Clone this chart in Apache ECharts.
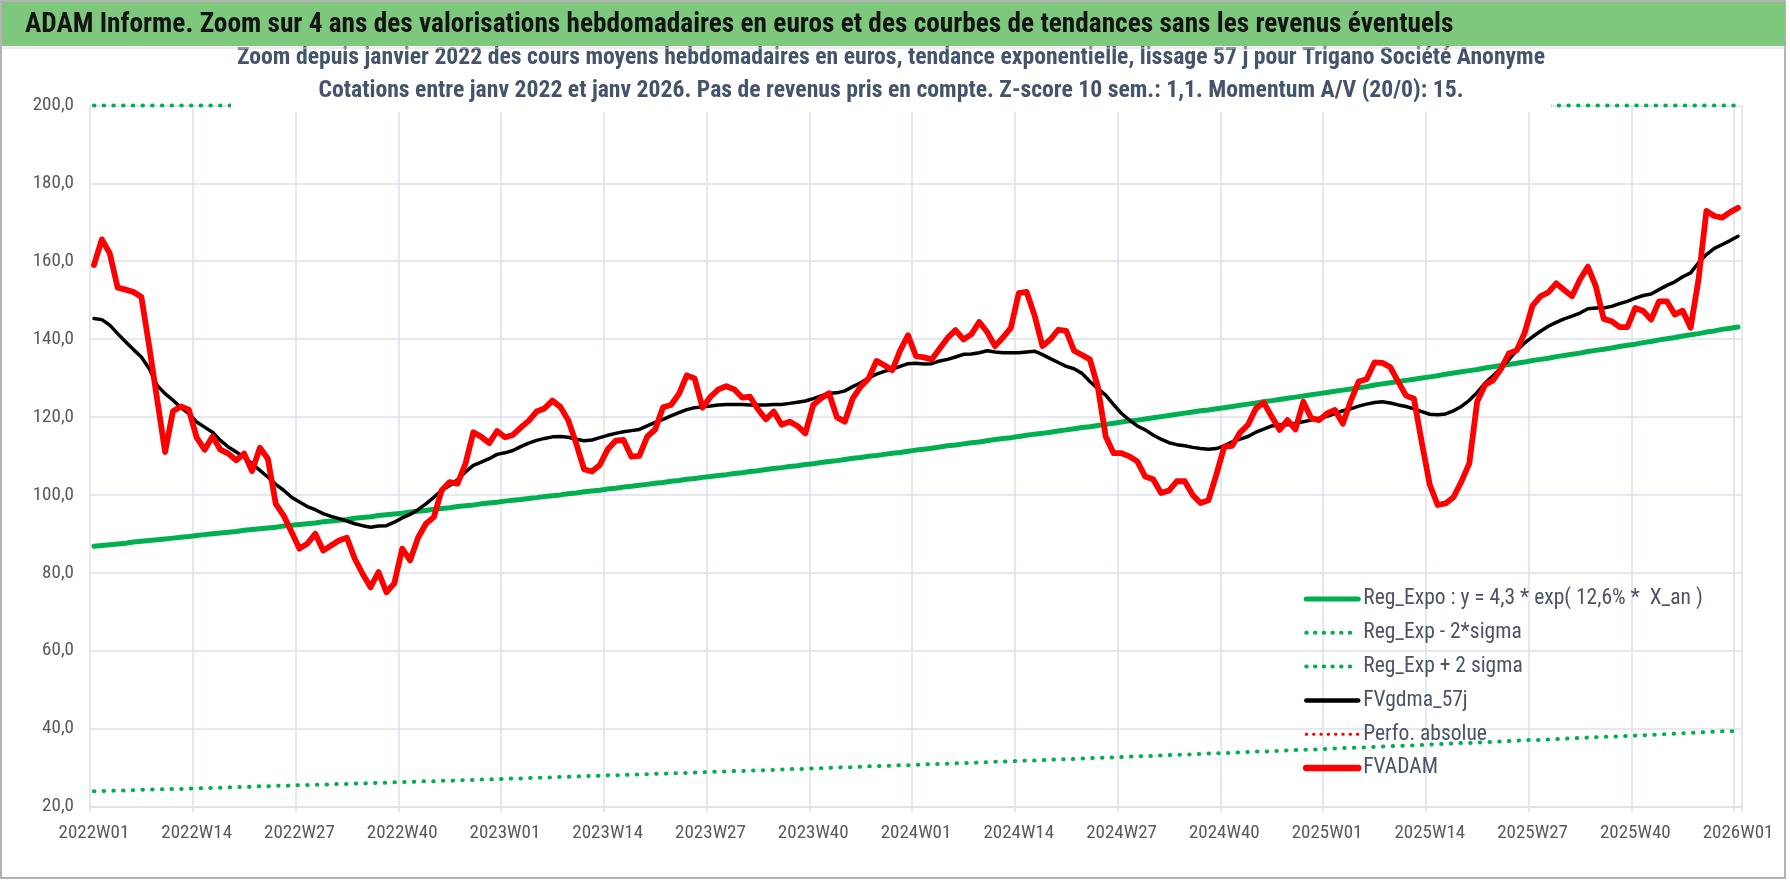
<!DOCTYPE html>
<html>
<head>
<meta charset="utf-8">
<script src="https://cdn.jsdelivr.net/npm/echarts@6/dist/echarts.min.js"></script>
<style>
html,body{margin:0;padding:0;background:#fff;}
#chart{width:1790px;height:887px;}
</style>
</head>
<body>
<div id="chart"></div>
<script>
// ---------- DATA ----------
const years = [2022, 2023, 2024, 2025];
const weeksPerYear = 52;
const lastWeek = '2026W01';

const yTicks = { min: 20, max: 200, step: 20 };

const mainTitle = 'ADAM Informe. Zoom sur 4 ans des valorisations hebdomadaires en euros et des courbes de tendances sans les revenus éventuels';
const subTitleLines = [
  'Zoom depuis janvier 2022 des cours moyens hebdomadaires en euros, tendance exponentielle, lissage 57 j pour Trigano Société Anonyme',
  'Cotations entre janv 2022 et janv 2026. Pas de revenus pris en compte. Z-score 10 sem.: 1,1. Momentum A/V (20/0): 15.'
];
const seriesNames = ['Reg_Expo : y = 4,3 * exp( 12,6% *  X_an )', 'Reg_Exp - 2*sigma', 'Reg_Exp + 2 sigma', 'FVgdma_57j', 'Perfo. absolue', 'FVADAM'];

const regExpo = [
86.8,87.0,87.2,87.4,87.6,87.9,88.1,88.3,88.5,88.7,
88.9,89.1,89.3,89.6,89.8,90.0,90.2,90.4,90.6,90.9,
91.1,91.3,91.5,91.7,92.0,92.2,92.4,92.6,92.8,93.1,
93.3,93.5,93.7,94.0,94.2,94.4,94.7,94.9,95.1,95.3,
95.6,95.8,96.0,96.3,96.5,96.7,97.0,97.2,97.4,97.7,
97.9,98.1,98.4,98.6,98.8,99.1,99.3,99.6,99.8,100.0,
100.3,100.5,100.8,101.0,101.2,101.5,101.7,102.0,102.2,102.5,
102.7,103.0,103.2,103.5,103.7,104.0,104.2,104.5,104.7,105.0,
105.2,105.5,105.7,106.0,106.2,106.5,106.8,107.0,107.3,107.5,
107.8,108.0,108.3,108.6,108.8,109.1,109.4,109.6,109.9,110.1,
110.4,110.7,110.9,111.2,111.5,111.7,112.0,112.3,112.6,112.8,
113.1,113.4,113.6,113.9,114.2,114.5,114.7,115.0,115.3,115.6,
115.8,116.1,116.4,116.7,117.0,117.3,117.5,117.8,118.1,118.4,
118.7,119.0,119.2,119.5,119.8,120.1,120.4,120.7,121.0,121.3,
121.6,121.8,122.1,122.4,122.7,123.0,123.3,123.6,123.9,124.2,
124.5,124.8,125.1,125.4,125.7,126.0,126.3,126.6,126.9,127.2,
127.5,127.8,128.2,128.5,128.8,129.1,129.4,129.7,130.0,130.3,
130.6,131.0,131.3,131.6,131.9,132.2,132.6,132.9,133.2,133.5,
133.8,134.1,134.5,134.8,135.1,135.5,135.8,136.1,136.4,136.8,
137.1,137.4,137.7,138.1,138.4,138.7,139.1,139.4,139.8,140.1,
140.4,140.8,141.1,141.4,141.8,142.1,142.5,142.8,143.1
];

const regMinus2Sigma = [
23.9,24.0,24.0,24.1,24.1,24.2,24.3,24.3,24.4,24.4,
24.5,24.5,24.6,24.7,24.7,24.8,24.8,24.9,25.0,25.0,
25.1,25.2,25.2,25.3,25.3,25.4,25.5,25.5,25.6,25.6,
25.7,25.8,25.8,25.9,25.9,26.0,26.1,26.1,26.2,26.3,
26.3,26.4,26.5,26.5,26.6,26.6,26.7,26.8,26.8,26.9,
27.0,27.0,27.1,27.2,27.2,27.3,27.4,27.4,27.5,27.6,
27.6,27.7,27.8,27.8,27.9,28.0,28.0,28.1,28.2,28.2,
28.3,28.4,28.4,28.5,28.6,28.6,28.7,28.8,28.9,28.9,
29.0,29.1,29.1,29.2,29.3,29.3,29.4,29.5,29.6,29.6,
29.7,29.8,29.8,29.9,30.0,30.1,30.1,30.2,30.3,30.4,
30.4,30.5,30.6,30.6,30.7,30.8,30.9,30.9,31.0,31.1,
31.2,31.2,31.3,31.4,31.5,31.5,31.6,31.7,31.8,31.8,
31.9,32.0,32.1,32.1,32.2,32.3,32.4,32.5,32.5,32.6,
32.7,32.8,32.9,32.9,33.0,33.1,33.2,33.3,33.3,33.4,
33.5,33.6,33.7,33.7,33.8,33.9,34.0,34.1,34.1,34.2,
34.3,34.4,34.5,34.6,34.6,34.7,34.8,34.9,35.0,35.1,
35.1,35.2,35.3,35.4,35.5,35.6,35.6,35.7,35.8,35.9,
36.0,36.1,36.2,36.3,36.3,36.4,36.5,36.6,36.7,36.8,
36.9,37.0,37.1,37.1,37.2,37.3,37.4,37.5,37.6,37.7,
37.8,37.9,37.9,38.0,38.1,38.2,38.3,38.4,38.5,38.6,
38.7,38.8,38.9,39.0,39.1,39.2,39.3,39.3,39.4
];

// the +2 sigma band sits above the axis maximum: it is visible only on the 200 top line
const regPlus2Sigma = [
200,200,200,200,200,200,200,200,200,200,
200,200,200,200,200,200,200,200,200,200,
200,200,200,200,200,200,200,200,200,200,
200,200,200,200,200,200,200,200,200,200,
200,200,200,200,200,200,200,200,200,200,
200,200,200,200,200,200,200,200,200,200,
200,200,200,200,200,200,200,200,200,200,
200,200,200,200,200,200,200,200,200,200,
200,200,200,200,200,200,200,200,200,200,
200,200,200,200,200,200,200,200,200,200,
200,200,200,200,200,200,200,200,200,200,
200,200,200,200,200,200,200,200,200,200,
200,200,200,200,200,200,200,200,200,200,
200,200,200,200,200,200,200,200,200,200,
200,200,200,200,200,200,200,200,200,200,
200,200,200,200,200,200,200,200,200,200,
200,200,200,200,200,200,200,200,200,200,
200,200,200,200,200,200,200,200,200,200,
200,200,200,200,200,200,200,200,200,200,
200,200,200,200,200,200,200,200,200,200,
200,200,200,200,200,200,200,200,200
];

const fvgdma57j = [
145.3,145.0,143.6,141.4,139.3,137.3,135.4,132.4,128.1,126.0,
124.3,122.4,120.9,118.7,117.4,116.1,114.0,112.3,111.0,109.7,
108.0,106.3,104.6,102.7,101.2,99.4,98.2,97.0,96.2,95.2,
94.5,93.9,93.3,92.6,92.1,91.7,92.0,92.1,93.0,94.1,
95.0,96.2,97.7,99.4,101.2,102.4,103.9,105.9,107.6,108.4,
109.3,110.4,110.8,111.4,112.4,113.3,114.0,114.5,114.9,115.0,
114.8,114.3,113.9,114.1,114.7,115.3,115.8,116.2,116.5,116.8,
117.7,118.6,119.4,120.3,121.1,121.9,122.4,122.6,122.8,123.1,
123.2,123.2,123.2,123.1,123.1,123.1,123.2,123.2,123.5,123.8,
124.1,124.7,125.4,126.1,126.2,126.7,127.8,128.8,130.0,131.0,
131.7,132.3,133.0,133.7,133.8,133.6,133.7,134.4,134.8,135.4,
136.1,136.2,136.5,137.0,136.7,136.5,136.5,136.5,136.7,136.9,
136.0,135.0,134.0,133.0,132.4,131.2,129.1,127.3,125.6,123.2,
120.9,119.2,117.7,116.7,115.4,114.3,113.4,112.9,112.6,112.2,
111.9,111.7,111.9,112.6,113.6,114.3,115.0,116.1,116.9,117.7,
118.0,118.0,118.4,118.8,119.2,119.7,120.2,120.9,121.6,122.1,
122.8,123.3,123.7,123.9,123.6,123.1,122.7,122.1,121.4,120.7,
120.6,120.8,121.6,122.7,124.3,126.3,128.7,130.6,132.6,134.7,
137.1,139.0,140.6,142.0,143.3,144.3,145.2,145.9,146.7,147.8,
148.0,148.0,148.4,149.1,149.7,150.5,151.2,151.6,152.7,153.8,
154.7,156.0,157.0,159.6,161.7,163.3,164.3,165.3,166.4
];

const perfoAbsolue = [];

const fvadam = [
159.0,165.6,162.0,153.2,152.7,152.1,150.8,138.0,124.5,111.0,
121.5,122.7,121.9,114.7,111.6,115.0,111.6,110.6,108.9,110.6,
106.1,112.1,109.3,97.7,94.7,90.5,86.2,87.5,90.0,85.7,
87.0,88.3,89.0,83.6,79.7,76.3,80.2,75.0,77.3,86.2,
83.2,89.0,92.6,94.3,101.2,103.3,102.9,108.0,116.1,114.9,
113.3,116.4,114.8,115.4,117.3,119.0,121.4,122.2,124.2,122.6,
119.2,113.3,106.6,106.0,107.7,111.7,113.9,114.1,109.8,110.0,
115.0,116.8,122.5,123.1,125.9,130.7,129.9,122.4,125.2,127.1,
127.9,127.1,125.0,125.2,122.0,119.4,121.4,118.0,118.8,117.7,
115.8,123.1,124.8,126.1,119.9,118.8,124.8,127.8,129.9,134.4,
133.3,132.0,137.1,141.0,135.6,135.3,134.8,137.6,140.3,142.3,
139.9,141.2,144.4,141.8,138.2,140.4,142.9,151.8,152.1,146.1,
138.2,139.9,142.4,142.1,137.0,135.9,134.8,127.8,115.0,110.7,
110.7,109.9,108.6,104.7,104.0,100.5,101.1,103.5,103.5,100.0,
97.9,98.6,105.2,112.4,112.6,116.0,118.0,122.2,123.7,120.1,
116.7,119.2,116.8,123.9,119.7,119.2,120.9,121.8,118.3,124.1,
129.1,129.7,134.0,133.9,132.8,129.1,125.5,124.7,113.3,102.6,
97.4,97.8,99.4,103.4,108.1,124.0,128.3,129.4,132.3,136.3,
137.1,141.6,148.6,151.0,152.0,154.3,152.6,151.0,155.3,158.6,
153.6,145.2,144.6,143.1,143.1,148.0,147.2,145.0,149.7,149.7,
146.3,147.3,142.9,155.3,172.9,171.6,171.2,172.6,173.7
];

// ---------- BUILD ----------
const categories = [];
years.forEach(y => { for (let w = 1; w <= weeksPerYear; w++) categories.push(y + 'W' + String(w).padStart(2, '0')); });
categories.push(lastWeek);

const FONT = "'Liberation Sans Narrow', 'Roboto Condensed', 'Lato', sans-serif";
const GRID = '#dde1e8';
const GREEN = '#00B050';
const RED = '#FF0000';
const DOT = [0.5, 9.2];
const NOFILL = { color: 'rgba(0,0,0,0)', borderWidth: 0, opacity: 0 };

const chart = echarts.init(document.getElementById('chart'), null, { renderer: 'canvas' });

chart.setOption({
  animation: false,
  backgroundColor: '#ffffff',
  textStyle: { fontFamily: FONT },
  graphic: [
    { type: 'rect', z: -10, silent: true, shape: { x: 1, y: 1, width: 1784, height: 877 }, style: { fill: '#ffffff', stroke: '#9a9a9a', lineWidth: 1.5 } },
    { type: 'text', z: 100, silent: true, x: 891, y: 38,
      style: { text: subTitleLines.join('\n'), fill: '#44546A', font: "bold 23.7px " + FONT, align: 'center', verticalAlign: 'top',
               lineHeight: 33, backgroundColor: '#ffffff', padding: [4, 6, 4, 6] } },
    { type: 'rect', z: 101, silent: true, shape: { x: 2, y: 2, width: 1783, height: 44 }, style: { fill: '#7EC87E' } },
    { type: 'line', z: 101, silent: true, shape: { x1: 2, y1: 48, x2: 1785, y2: 48 }, style: { stroke: '#d9d9d9', lineWidth: 1 } },
    { type: 'text', z: 102, silent: true, x: 25, y: 25, style: { text: mainTitle, fill: '#141414', font: "bold 27.3px " + FONT, verticalAlign: 'middle', align: 'left' } }
  ],
  legend: {
    orient: 'vertical',
    left: 1298,
    top: 583,
    itemWidth: 52,
    itemHeight: 14,
    itemGap: 11.8,
    itemStyle: NOFILL,
    textStyle: { fontFamily: FONT, fontSize: 21.5, color: '#4a5466', lineHeight: 20 },
    data: [
      { name: seriesNames[0], itemStyle: NOFILL, lineStyle: { color: GREEN, width: 5, type: 'solid', cap: 'round' } },
      { name: seriesNames[1], itemStyle: NOFILL, lineStyle: { color: GREEN, width: 4, type: [0.5, 8.2], cap: 'round' } },
      { name: seriesNames[2], itemStyle: NOFILL, lineStyle: { color: GREEN, width: 4, type: [0.5, 8.2], cap: 'round' } },
      { name: seriesNames[3], itemStyle: NOFILL, lineStyle: { color: '#000000', width: 4.5, type: 'solid', cap: 'round' } },
      { name: seriesNames[4], itemStyle: NOFILL, lineStyle: { color: RED, width: 3, type: [0.5, 6.8], cap: 'round' } },
      { name: seriesNames[5], itemStyle: NOFILL, lineStyle: { color: RED, width: 6.5, type: 'solid', cap: 'round' } }
    ]
  },
  grid: { left: 90, right: 48, top: 105.4, bottom: 80.5, containLabel: false },
  xAxis: {
    type: 'category',
    data: categories,
    boundaryGap: true,
    axisLine: { show: true, lineStyle: { color: GRID, width: 1.5 } },
    axisTick: { show: true, interval: 12, length: 6, lineStyle: { color: GRID, width: 1.5 } },
    splitLine: { show: true, interval: 12, lineStyle: { color: GRID, width: 1.5 } },
    axisLabel: { interval: 12, margin: 17, fontFamily: FONT, fontSize: 19, color: '#595959' }
  },
  yAxis: {
    type: 'value',
    min: yTicks.min,
    max: yTicks.max,
    interval: yTicks.step,
    axisLine: { show: false },
    axisTick: { show: false },
    splitLine: { show: true, lineStyle: { color: GRID, width: 1.5 } },
    axisLabel: { margin: 16, fontFamily: FONT, fontSize: 19, color: '#595959', formatter: v => v.toFixed(1).replace('.', ',') }
  },
  series: [
    { name: seriesNames[0], type: 'line', data: regExpo, symbol: 'none', z: 2, lineStyle: { color: GREEN, width: 5, cap: 'round', join: 'round' }, itemStyle: { color: GREEN } },
    { name: seriesNames[1], type: 'line', data: regMinus2Sigma, symbol: 'none', z: 2, lineStyle: { color: GREEN, width: 4, type: DOT, cap: 'round' }, itemStyle: { color: GREEN } },
    { name: seriesNames[2], type: 'line', data: regPlus2Sigma, symbol: 'none', z: 2, clip: false, lineStyle: { color: GREEN, width: 4, type: DOT, cap: 'round' }, itemStyle: { color: GREEN } },
    { name: seriesNames[3], type: 'line', data: fvgdma57j, symbol: 'none', z: 3, lineStyle: { color: '#000000', width: 3.5, cap: 'round', join: 'round' }, itemStyle: { color: '#000000' } },
    { name: seriesNames[4], type: 'line', data: perfoAbsolue, symbol: 'none', z: 3, lineStyle: { color: RED, width: 3, type: [0.5, 6.8], cap: 'round' }, itemStyle: { color: RED } },
    { name: seriesNames[5], type: 'line', data: fvadam, symbol: 'none', z: 4, lineStyle: { color: RED, width: 5.8, cap: 'round', join: 'round' }, itemStyle: { color: RED } }
  ]
});
</script>
</body>
</html>
